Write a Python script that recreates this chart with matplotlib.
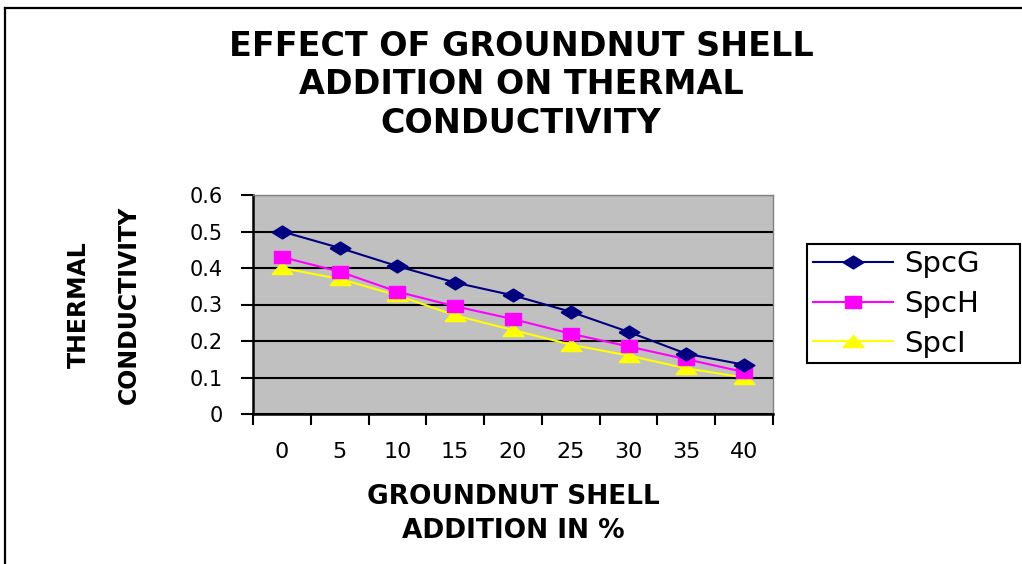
import matplotlib
matplotlib.use('Agg')
import matplotlib.pyplot as plt
from matplotlib.lines import Line2D

# data
addition = ['0', '5', '10', '15', '20', '25', '30', '35', '40']
spc_g = [0.50, 0.455, 0.405, 0.36, 0.325, 0.28, 0.225, 0.165, 0.135]
spc_h = [0.43, 0.39, 0.335, 0.295, 0.26, 0.22, 0.185, 0.15, 0.115]
spc_i = [0.40, 0.37, 0.325, 0.27, 0.23, 0.19, 0.16, 0.125, 0.10]
yticks = [0, 0.1, 0.2, 0.3, 0.4, 0.5, 0.6]
ytick_labels = ['0', '0.1', '0.2', '0.3', '0.4', '0.5', '0.6']

plt.rcParams['font.family'] = ['DejaVu Sans']

W, H = 1022, 564
fig = plt.figure(figsize=(W / 100, H / 100), dpi=100)
fig.patch.set_facecolor('white')

# chart border (left and top edges visible)
fig.add_artist(Line2D([5 / W, 5 / W], [0, 1 - 8 / H], transform=fig.transFigure,
                      color='black', lw=1.6))
fig.add_artist(Line2D([5 / W, 1], [1 - 8 / H, 1 - 8 / H], transform=fig.transFigure,
                      color='black', lw=1.6))

ax = fig.add_axes([253 / W, 1 - 414 / H, (773 - 253) / W, (414 - 195) / H])
ax.set_facecolor('#C0C0C0')

x = list(range(len(addition)))

# stretched marker shapes (the original picture is wide)
diamond = [(-1, 0), (0, 0.62), (1, 0), (0, -0.62), (-1, 0)]
square = [(-1, -0.7), (1, -0.7), (1, 0.7), (-1, 0.7), (-1, -0.7)]
triangle = [(-1, -0.58), (1, -0.58), (0, 0.58), (-1, -0.58)]

ax.plot(x, spc_g, color='#000080', lw=1.5, marker=diamond, ms=15,
        mfc='#000080', mec='#000080', label='SpcG', zorder=5)
ax.plot(x, spc_h, color='#FF00FF', lw=1.5, marker=square, ms=12,
        mfc='#FF00FF', mec='#FF00FF', label='SpcH', zorder=4)
ax.plot(x, spc_i, color='#FFFF00', lw=1.5, marker=triangle, ms=15,
        mfc='#FFFF00', mec='#FFFF00', label='SpcI', zorder=3)

ax.set_xlim(-0.5, len(addition) - 0.5)
ax.set_ylim(0, 0.6)

ax.set_yticks(yticks)
ax.set_yticklabels(ytick_labels)
ax.yaxis.grid(True, color='black', lw=1.5)
ax.set_axisbelow(True)

# category axis: ticks between categories, labels at the centers
ax.set_xticks([i - 0.5 for i in range(len(addition) + 1)])
ax.set_xticklabels([])
ax.set_xticks(x, minor=True)
ax.set_xticklabels(addition, minor=True)
ax.tick_params(axis='x', which='major', direction='out', length=8, width=1.5)
ax.tick_params(axis='x', which='minor', length=0, pad=20, labelsize=16)
ax.tick_params(axis='y', direction='out', length=9, width=1.5, pad=13, labelsize=15)

for s in ['left', 'bottom']:
    ax.spines[s].set_linewidth(1.8)
    ax.spines[s].set_color('black')
for s in ['top', 'right']:
    ax.spines[s].set_linewidth(1)
    ax.spines[s].set_color('#808080')

fig.text(521 / W, 1 - 85 / H,
         'EFFECT OF GROUNDNUT SHELL\nADDITION ON THERMAL\nCONDUCTIVITY',
         ha='center', va='center', fontsize=24, fontweight='bold', linespacing=1.23)

ax.set_xlabel('GROUNDNUT SHELL\nADDITION IN %', fontsize=19, fontweight='bold',
              linespacing=1.4, labelpad=16)
ax.set_ylabel('THERMAL\nCONDUCTIVITY', fontsize=17, fontweight='bold',
              linespacing=2.35, labelpad=35)

leg = fig.legend(loc='center left', mode='expand',
                 bbox_to_anchor=(807 / W, 1 - 363 / H, (1020 - 807) / W, (363 - 245) / H),
                 borderaxespad=0, fontsize=21, handlelength=2.75, handletextpad=0.38,
                 labelspacing=0.4, fancybox=False, edgecolor='black',
                 framealpha=1, borderpad=0.2)
leg.get_frame().set_linewidth(1.5)

fig.savefig('out.png', dpi=100)
